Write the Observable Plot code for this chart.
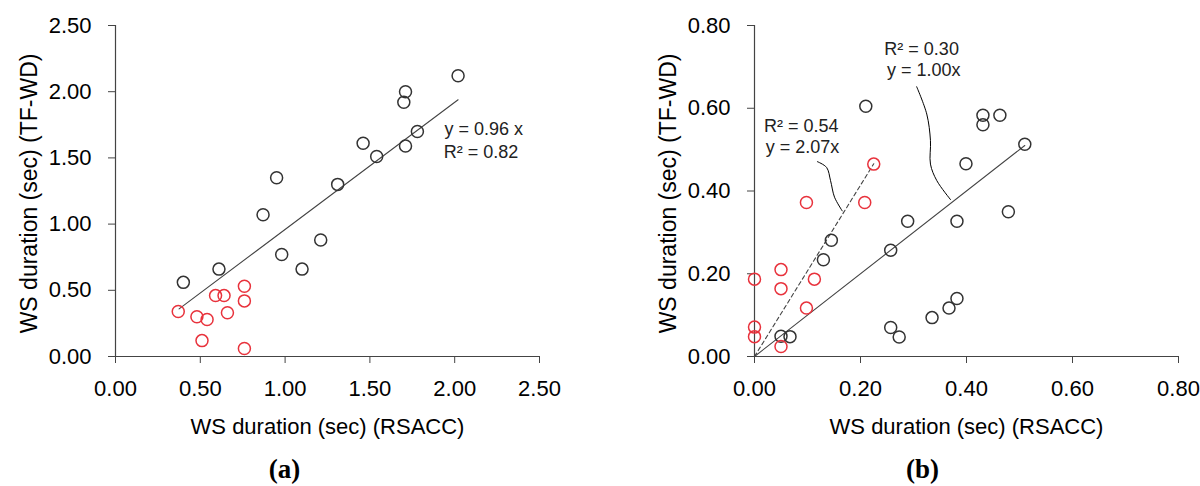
<!DOCTYPE html>
<html>
<head>
<meta charset="utf-8">
<script src="https://cdn.jsdelivr.net/npm/d3@7"></script>
<script src="https://cdn.jsdelivr.net/npm/@observablehq/plot@0.6"></script>
<style>
  html, body { margin: 0; padding: 0; background: #fff; }
  #wrap { display: flex; width: 1200px; height: 486px; }
  #wrap > div { width: 600px; height: 486px; }
</style>
</head>
<body>
<div id="wrap"><div id="pa"></div><div id="pb"></div></div>
<script>
// ---------- Panel (a) data ----------
const aBlackX = [0.40, 0.61, 0.87, 0.95, 0.98, 1.10, 1.21, 1.31, 1.46, 1.54, 1.70, 1.71, 1.71, 1.78, 2.02];
const aBlackY = [0.56, 0.66, 1.07, 1.35, 0.77, 0.66, 0.88, 1.30, 1.61, 1.51, 1.92, 2.00, 1.59, 1.70, 2.12];
const aRedX = [0.37, 0.48, 0.54, 0.51, 0.59, 0.64, 0.66, 0.76, 0.76, 0.76];
const aRedY = [0.34, 0.30, 0.28, 0.12, 0.46, 0.46, 0.33, 0.53, 0.42, 0.06];
const aSlope = 0.96;
const aFitRange = [0.375, 2.02];
const aTicks = [0, 0.5, 1.0, 1.5, 2.0, 2.5];
const aNotes = [
  {x: 1.94, y: 1.72, text: "y = 0.96 x"},
  {x: 1.935, y: 1.545, text: "R² = 0.82"}
];

// ---------- Panel (b) data ----------
const bBlackX = [0.210, 0.431, 0.431, 0.463, 0.510, 0.399, 0.479, 0.382, 0.289, 0.257, 0.145, 0.130, 0.050, 0.067, 0.257, 0.273, 0.335, 0.367, 0.382];
const bBlackY = [0.605, 0.583, 0.560, 0.583, 0.513, 0.466, 0.350, 0.327, 0.327, 0.257, 0.281, 0.234, 0.049, 0.048, 0.070, 0.047, 0.094, 0.117, 0.140];
const bRedX = [0, 0, 0, 0.05, 0.05, 0.05, 0.098, 0.098, 0.113, 0.208, 0.225];
const bRedY = [0.187, 0.071, 0.048, 0.210, 0.164, 0.024, 0.372, 0.117, 0.187, 0.372, 0.465];
const bSlopeBlack = 1.00;
const bFitRangeBlack = [0, 0.51];
const bSlopeRed = 2.07;
const bFitRangeRed = [0, 0.225];
const bTicks = [0, 0.2, 0.4, 0.6, 0.8];
const bNotes = [
  {x: 0.245, y: 0.742, text: "R² = 0.30"},
  {x: 0.250, y: 0.693, text: "y = 1.00x"},
  {x: 0.018, y: 0.556, text: "R² = 0.54"},
  {x: 0.021, y: 0.506, text: "y = 2.07x"}
];
const bLeaderBlack = [[0.306, 0.652], [0.325, 0.586], [0.332, 0.522], [0.332, 0.465], [0.344, 0.425], [0.370, 0.379]];
const bLeaderRed = [[0.1186, 0.471], [0.136, 0.457], [0.1435, 0.425], [0.151, 0.385], [0.1655, 0.352]];

const xTitle = "WS duration (sec) (RSACC)";
const yTitle = "WS duration (sec) (TF-WD)";

const BLACK = "#333333";
const RED = "#e8323c";
const FONT = "'Liberation Sans', Arial, sans-serif";
const fmt = d3.format(".2f");

const pts = (xs, ys) => xs.map((x, i) => ({x, y: ys[i]}));
const fit = (range, slope) => range.map(x => ({x, y: slope * x}));
const path = (arr) => arr.map(([x, y]) => ({x, y}));

function panel({marginLeft, marginRight, domain, ticks, black, red, lines, notes, leaders, tag, tagDx}) {
  return Plot.plot({
    width: 600,
    height: 486,
    marginLeft, marginRight,
    marginTop: 25,
    marginBottom: 130,
    style: {fontFamily: FONT, background: "#fff", color: "#000", overflow: "visible"},
    x: {domain, ticks},
    y: {domain, ticks},
    marks: [
      Plot.ruleY([0], {stroke: "#444", strokeWidth: 1.2}),
      Plot.ruleX([0], {stroke: "#444", strokeWidth: 1.2}),
      Plot.axisX({ticks, tickFormat: fmt, tickSize: 7, tickPadding: 17, fontSize: 22, stroke: "#444", fill: "#000", label: null}),
      Plot.axisY({ticks, tickFormat: fmt, tickSize: 7, tickPadding: 17, fontSize: 22, stroke: "#444", fill: "#000", label: null}),
      ...lines.map(l => Plot.line(l.data, {x: "x", y: "y", stroke: "#444", strokeWidth: 1.1, strokeDasharray: l.dash})),
      ...leaders.map(d => Plot.line(d, {x: "x", y: "y", stroke: "#000", strokeWidth: 1, curve: "catmull-rom"})),
      Plot.dot(black, {x: "x", y: "y", r: 6, stroke: BLACK, strokeWidth: 1.5, fill: "none"}),
      Plot.dot(red, {x: "x", y: "y", r: 6, stroke: RED, strokeWidth: 1.5, fill: "none"}),
      Plot.text(notes, {x: "x", y: "y", text: "text", textAnchor: "start", lineAnchor: "middle", fontSize: 18, fill: "#222"}),
      Plot.text([xTitle], {frameAnchor: "bottom", dy: 70, lineAnchor: "middle", fontSize: 22, fill: "#000"}),
      Plot.text([yTitle], {frameAnchor: "top-left", dx: -86, dy: 28, rotate: -90, textAnchor: "end", lineAnchor: "middle", fontSize: 23, fill: "#000"}),
      Plot.text([tag], {frameAnchor: "bottom", dx: tagDx, dy: 113, lineAnchor: "middle", fontSize: 27, fontWeight: "bold", fontFamily: "'Liberation Serif', 'Times New Roman', serif", fill: "#000"})
    ]
  });
}

document.getElementById("pa").appendChild(panel({
  marginLeft: 115, marginRight: 61,
  domain: [0, 2.5], ticks: aTicks,
  black: pts(aBlackX, aBlackY), red: pts(aRedX, aRedY),
  lines: [{data: fit(aFitRange, aSlope), dash: null}],
  notes: aNotes, leaders: [],
  tag: "(a)", tagDx: -43
}));

document.getElementById("pb").appendChild(panel({
  marginLeft: 154, marginRight: 22,
  domain: [0, 0.8], ticks: bTicks,
  black: pts(bBlackX, bBlackY), red: pts(bRedX, bRedY),
  lines: [
    {data: fit(bFitRangeBlack, bSlopeBlack), dash: null},
    {data: fit(bFitRangeRed, bSlopeRed), dash: "4,3"}
  ],
  notes: bNotes, leaders: [path(bLeaderBlack), path(bLeaderRed)],
  tag: "(b)", tagDx: -44
}));
</script>
</body>
</html>
